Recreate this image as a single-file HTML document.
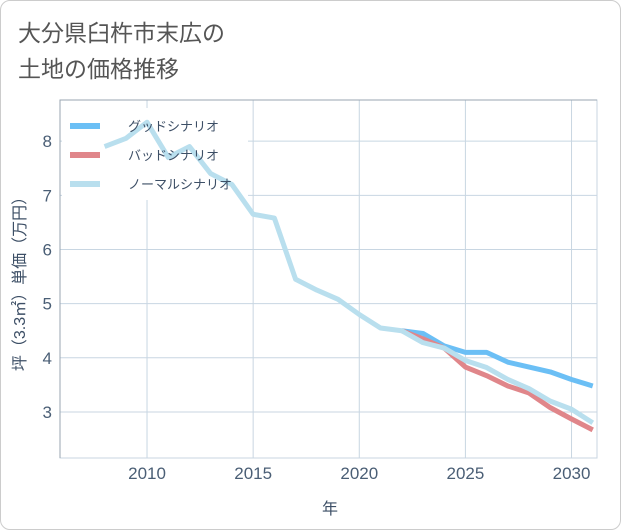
<!DOCTYPE html>
<html><head><meta charset="utf-8">
<style>
body{margin:0;background:#fff;}
.card{position:absolute;left:0;top:0;width:619px;height:528px;border:1px solid #ccc;border-radius:10px;background:#fff;}
.title{position:absolute;left:17px;top:14px;font-family:"Liberation Sans","Noto Sans CJK JP",sans-serif;font-size:23px;line-height:36px;color:#555;}
svg{position:absolute;left:0;top:0;}
text{font-family:"Liberation Sans","Noto Sans CJK JP",sans-serif;}
</style></head><body>
<div class="card">
<div class="title">大分県臼杵市末広の<br>土地の価格推移</div>
</div>
<svg id="c" width="621" height="530"></svg>
<script>
const years=[2008,2009,2010,2011,2012,2013,2014,2015,2016,2017,2018,2019,2020,2021,2022,2023,2024,2025,2026,2027,2028,2029,2030,2031];
const normal=[7.9,8.05,8.35,7.7,7.9,7.4,7.2,6.65,6.58,5.45,5.25,5.08,4.8,4.55,4.5,4.28,4.18,3.95,3.82,3.6,3.43,3.2,3.05,2.8];
const futureYears=[2022,2023,2024,2025,2026,2027,2028,2029,2030,2031];
const good=[4.5,4.45,4.22,4.1,4.1,3.92,3.83,3.74,3.6,3.48];
const bad=[4.5,4.35,4.18,3.83,3.67,3.48,3.35,3.08,2.87,2.67];
const xTicks=[2010,2015,2020,2025,2030];
const yTicks=[3,4,5,6,7,8];
const X0=60,X1=597,Y0=100,Y1=458;
const xMin=2005.9,xMax=2031.2,yMin=2.15,yMax=8.76;
const sx=v=>X0+(v-xMin)/(xMax-xMin)*(X1-X0);
const sy=v=>Y1-(v-yMin)/(yMax-yMin)*(Y1-Y0);
const svg=document.getElementById('c');
const NS='http://www.w3.org/2000/svg';
function mk(t,a){const e=document.createElementNS(NS,t);for(const k in a)e.setAttribute(k,a[k]);svg.appendChild(e);return e;}
let r=mk('rect',{x:X0,y:Y0,width:X1-X0,height:Y1-Y0,fill:'none',stroke:'#c8d6e2'});


xTicks.forEach(t=>{const l=mk('line',{x1:sx(t),x2:sx(t),y1:Y0,y2:Y1,stroke:'#c8d6e2'});

});
yTicks.forEach(t=>{const l=mk('line',{x1:X0,x2:X1,y1:sy(t),y2:sy(t),stroke:'#c8d6e2'});

});
let ax=mk('polyline',{points:`${X0},${Y1} ${X0},${Y0} ${X1},${Y0}`,fill:'none',stroke:'#99a6b2'});


xTicks.forEach(t=>{const e=mk('text',{x:sx(t),y:479,'text-anchor':'middle','font-size':17,fill:'#4a5e75'});e.textContent=t;

});
yTicks.forEach(t=>{const e=mk('text',{x:52,y:sy(t)+6,'text-anchor':'end','font-size':17,fill:'#4a5e75'});e.textContent=t;

});
let xt=mk('text',{x:330,y:514,'text-anchor':'middle','font-size':16,fill:'#3d4f66'});xt.textContent='年';


let yt=mk('text',{x:0,y:0,'text-anchor':'middle','font-size':16,fill:'#3d4f66',transform:'translate(25,280) rotate(-90)'});yt.textContent='坪（3.3㎡）単価（万円）';


let lb=mk('rect',{x:62,y:108,width:186,height:92,fill:'#fff'});


function line(xs,ys,col,name){const p=mk('polyline',{points:xs.map((x,i)=>sx(x)+','+sy(ys[i])).join(' '),fill:'none',stroke:col,'stroke-width':5,'stroke-linejoin':'round'});

}
line(futureYears,good,'#6bbff5','good-scenario-line');
line(futureYears,bad,'#e0868a','bad-scenario-line');
line(years,normal,'#b9dfee','normal-scenario-line');
const legend=[['グッドシナリオ','#6bbff5'],['バッドシナリオ','#e0868a'],['ノーマルシナリオ','#b9dfee']];
legend.forEach((l,i)=>{const y=126+i*29;
const s=mk('line',{x1:70,x2:100,y1:y,y2:y,stroke:l[1],'stroke-width':6});


const t=mk('text',{x:128,y:y+5,'font-size':13,fill:'#3d4f66'});t.textContent=l[0];

});
</script>
</body></html>
